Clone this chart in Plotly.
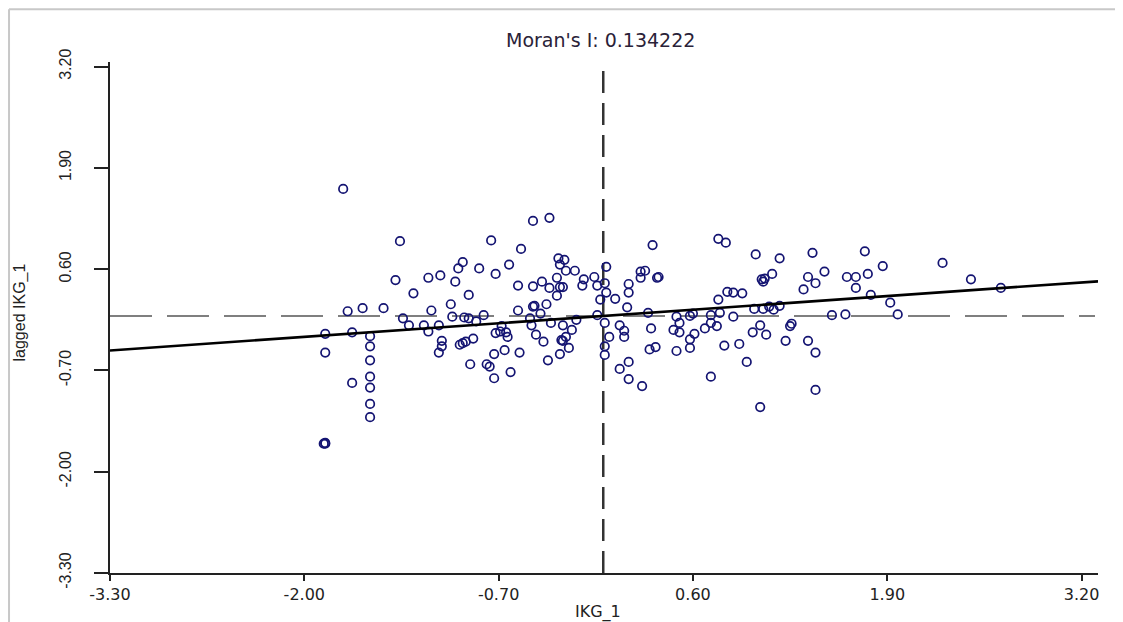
import plotly.graph_objects as go

# ---- data ----
moran_i = 0.134222
x_mean = 0.0
y_mean = 0.0

ikg_1 = [
    -1.74, -0.47, -1.36, -0.75, -0.55, -0.94, -0.97, -0.83, -0.63, -0.72,
    -1.39, -1.17, -1.09, -0.99, -0.57, -0.47, -1.27, -0.90, -1.02, -1.71,
    -1.61, -1.47, -1.15, -0.57, -0.47, -0.46, -1.34, -1.01, -0.93, -0.90,
    -0.80, -0.36, 0.33, 0.77, 0.82, 1.02, -0.30, -0.26, -0.29, 0.02,
    -0.25, -0.19, 0.25, 0.28, -0.31, -0.13, -0.06, 0.25, 0.36, 0.37,
    -0.41, -0.36, -0.29, -0.27, -0.14, -0.04, 0.01, 0.17, 1.06, 1.08,
    -0.31, 0.02, 0.17, -0.02, 0.08, -0.38, 0.77, 0.87, 0.93, 0.83,
    0.16, 0.30, 0.49, 0.58, 0.60, 0.72, 0.78, 0.87, 1.01, 1.07,
    -0.04, -0.42, 1.18, 1.40, 1.75, 2.27, 1.48, 1.87, 1.13, 1.07,
    1.37, 1.63, 1.69, 1.77, 1.42, 1.34, 1.69, 2.46, 1.79, 2.66,
    1.92, 1.11, 1.18, 1.14, 1.53, 1.62, 1.97, -0.49, -1.86, -1.68,
    -1.56, -1.30, -1.20, -1.10, -1.17, -0.85, -0.68, -0.72, -0.69, -0.64,
    -0.65, -0.48, -0.45, -1.86, -1.56, -1.56, -1.56, -1.56, -1.68, -1.56,
    -1.56, -1.86, -1.86, -1.87, -1.08, -1.08, -1.10, -0.96, -0.94, -0.87,
    -0.92, -0.73, -0.66, -0.56, -0.89, -0.78, -0.76, -0.62, -0.73, -0.35,
    -0.27, -0.21, -0.18, -0.40, -0.25, -0.28, -0.27, -0.23, -0.29, -0.37,
    0.01, 0.11, 0.14, 0.14, 0.04, 0.01, 0.01, 0.32, 0.17, 0.11,
    0.17, 0.26, 0.31, 0.35, 0.47, 0.51, 0.49, 0.58, 0.58, 0.61,
    0.68, 0.72, 0.76, 0.51, 0.81, 0.91, 0.96, 0.72, 1.05, 1.00,
    1.09, 1.05, 1.26, 1.25, 1.22, 1.37, 1.42, 1.42,
]

lagged_ikg_1 = [
    1.63, 1.22, 0.96, 0.97, 0.86, 0.69, 0.61, 0.61, 0.66, 0.54,
    0.46, 0.49, 0.52, 0.44, 0.39, 0.38, 0.29, 0.27, 0.15, 0.06,
    0.10, 0.10, 0.07, 0.07, 0.12, 0.13, -0.03, -0.01, -0.02, -0.03,
    0.01, 1.26, 0.91, 0.99, 0.94, 0.79, 0.74, 0.72, 0.66, 0.63,
    0.58, 0.58, 0.57, 0.58, 0.49, 0.47, 0.50, 0.49, 0.49, 0.50,
    0.44, 0.36, 0.37, 0.37, 0.39, 0.39, 0.42, 0.41, 0.47, 0.48,
    0.26, 0.30, 0.30, 0.21, 0.22, 0.15, 0.21, 0.30, 0.29, 0.31,
    0.11, 0.04, -0.01, 0.00, 0.03, 0.01, 0.04, -0.01, 0.09, 0.09,
    0.01, 0.03, 0.74, 0.81, 0.83, 0.68, 0.57, 0.64, 0.54, 0.44,
    0.50, 0.50, 0.50, 0.54, 0.42, 0.34, 0.36, 0.47, 0.27, 0.36,
    0.17, 0.12, 0.13, 0.08, 0.01, 0.02, 0.02, -0.03, -0.23, -0.21,
    -0.26, -0.12, -0.12, -0.12, -0.20, -0.07, -0.13, -0.22, -0.20, -0.27,
    -0.21, -0.12, -0.24, -0.47, -0.39, -0.57, -0.78, -0.92, -0.86, -1.13,
    -1.30, -1.64, -1.63, -1.64, -0.32, -0.39, -0.47, -0.37, -0.35, -0.29,
    -0.33, -0.49, -0.44, -0.47, -0.62, -0.62, -0.65, -0.72, -0.80, -0.09,
    -0.12, -0.18, -0.05, -0.33, -0.27, -0.31, -0.32, -0.41, -0.49, -0.57,
    -0.09, -0.12, -0.19, -0.27, -0.27, -0.39, -0.50, -0.16, -0.59, -0.68,
    -0.81, -0.90, -0.43, -0.40, -0.18, -0.21, -0.45, -0.41, -0.30, -0.23,
    -0.16, -0.09, -0.13, -0.09, -0.38, -0.36, -0.59, -0.78, -0.12, -0.21,
    -0.24, -1.17, -0.10, -0.13, -0.32, -0.32, -0.47, -0.95,
]

tick_vals = [-3.30, -2.00, -0.70, 0.60, 1.90, 3.20]
tick_text = ["-3.30", "-2.00", "-0.70", "0.60", "1.90", "3.20"]

x_range = [-3.30, 3.31]
y_range = [-3.30, 3.26]

# ---- figure ----
fig = go.Figure()

# mean lines (dashed)
fig.add_trace(go.Scatter(
    x=[x_range[0], 3.29], y=[y_mean, y_mean], mode="lines",
    line=dict(color="#555555", width=1.6, dash="42px,15px"),
    hoverinfo="skip", showlegend=False))
fig.add_trace(go.Scatter(
    x=[x_mean, x_mean], y=[y_range[0], y_range[1]], mode="lines",
    line=dict(color="#333333", width=2.5, dash="22px,10px"),
    hoverinfo="skip", showlegend=False))

# points
fig.add_trace(go.Scatter(
    x=ikg_1, y=lagged_ikg_1, mode="markers",
    marker=dict(symbol="circle-open", size=8.5, color="#141472",
                line=dict(width=1.7, color="#141472")),
    showlegend=False))

# regression line (slope = Moran's I)
fig.add_trace(go.Scatter(
    x=[x_range[0], x_range[1]],
    y=[moran_i * x_range[0], moran_i * x_range[1]],
    mode="lines", line=dict(color="#000000", width=2.6),
    hoverinfo="skip", showlegend=False))

axis_common = dict(
    showline=True, linecolor="#222222", linewidth=2,
    ticks="outside", tickcolor="#222222", tickwidth=2,
    showgrid=False, zeroline=False,
    tickmode="array", tickvals=tick_vals, ticktext=tick_text,
)

fig.update_layout(
    width=1115, height=614, autosize=False,
    margin=dict(l=102, r=25, t=54, b=49),
    paper_bgcolor="white", plot_bgcolor="white",
    xaxis=dict(range=x_range, ticklen=6,
               tickfont=dict(family="DejaVu Sans", size=16, color="#222222"),
               **axis_common),
    yaxis=dict(range=y_range, ticklen=14, tickangle=-90, ticklabelstandoff=17,
               tickfont=dict(family="Liberation Sans", size=16, color="#222222"),
               **axis_common),
    annotations=[
        dict(text="Moran's I: 0.134222", xref="paper", yref="paper",
             x=0.496, y=1.043, showarrow=False, xanchor="center", yanchor="middle",
             font=dict(family="DejaVu Sans", size=19, color="#2a2238")),
        dict(text="IKG_1", xref="paper", yref="paper",
             x=0.494, y=-0.077, showarrow=False, xanchor="center", yanchor="middle",
             font=dict(family="DejaVu Sans", size=16, color="#222222")),
        dict(text="lagged IKG_1", xref="paper", yref="paper",
             x=-0.091, y=0.51, showarrow=False, textangle=-90,
             xanchor="center", yanchor="middle",
             font=dict(family="Liberation Sans", size=16, color="#222222")),
    ],
    shapes=[
        dict(type="line", xref="paper", yref="paper",
             x0=-0.1022, x1=1.03, y0=1.103, y1=1.103,
             line=dict(color="#c8c8c8", width=2)),
        dict(type="line", xref="paper", yref="paper",
             x0=-0.1022, x1=-0.1022, y0=1.103, y1=-0.1,
             line=dict(color="#c8c8c8", width=2)),
    ],
)

fig.write_html("out.html")
